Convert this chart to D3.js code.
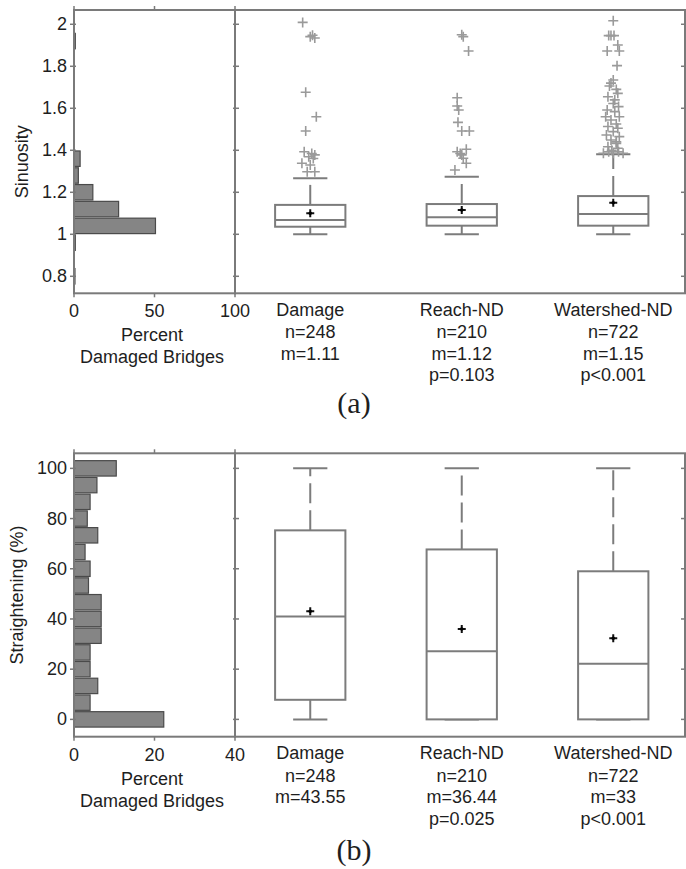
<!DOCTYPE html>
<html><head><meta charset="utf-8">
<script src="https://cdn.jsdelivr.net/npm/d3@7"></script>
<style>
body{margin:0;background:#fff}
svg{display:block}
text{font-family:"Liberation Sans",Arial,sans-serif;fill:#1e1e1e;font-size:18px}
</style>
</head><body><svg id="c" width="686" height="869"></svg>
<script>
// ---------- shared ----------
const categories = ["Damage", "Reach-ND", "Watershed-ND"];
const sampleSizes = ["n=248", "n=210", "n=722"];

// ---------- (a) Sinuosity ----------
const sinMeanLabels = ["m=1.11", "m=1.12", "m=1.15"];
const sinPLabels = ["", "p=0.103", "p<0.001"];
const sinQ1 = [1.036, 1.041, 1.041];
const sinMedian = [1.068, 1.081, 1.097];
const sinQ3 = [1.140, 1.144, 1.182];
const sinWhiskLo = [1.0, 1.0, 1.0];
const sinWhiskHi = [1.267, 1.274, 1.381];
const sinMean = [1.100, 1.116, 1.150];
// outliers: [value, horizontal jitter in category units]
const sinOutDamage = [[2.009,-0.05],[1.941,0.0],[1.935,0.03],[1.948,0.015],[1.676,-0.03],[1.56,0.04],[1.492,-0.03],
  [1.393,-0.04],[1.385,0.01],[1.378,0.03],[1.369,-0.01],[1.361,0.02],[1.338,-0.055],[1.33,0.0],[1.298,-0.02],[1.298,0.03]];
const sinOutReach = [[1.941,0.01],[1.950,0.0],[1.873,0.045],[1.65,-0.03],[1.611,-0.03],[1.592,-0.02],[1.533,-0.025],
  [1.492,0.0],[1.492,0.05],[1.405,0.03],[1.393,-0.03],[1.385,-0.01],[1.378,0.0],[1.362,0.01],[1.338,0.03],[1.306,-0.045]];
const sinOutWatershed = [[2.017,0.0],[1.946,-0.015],[1.946,-0.03],[1.946,0.005],[1.901,0.03],[1.873,-0.04],[1.873,0.04],
  [1.803,0.025],[1.735,0.0],[1.72,-0.015],[1.706,-0.025],[1.69,0.02],[1.671,0.03],[1.655,-0.035],[1.64,0.01],[1.623,0.0],
  [1.608,0.035],[1.592,-0.04],[1.584,0.01],[1.56,0.04],[1.56,-0.05],[1.544,-0.015],[1.525,0.02],[1.513,-0.035],
  [1.505,0.03],[1.489,0.0],[1.473,-0.045],[1.465,0.04],[1.449,-0.015],[1.44,0.02],[1.433,0.02],[1.417,-0.035],
  [1.41,0.03],[1.40,-0.01],[1.386,-0.065],[1.386,0.0],[1.386,0.065],[1.393,-0.03],[1.393,0.035]];
const sinOutliers = [sinOutDamage, sinOutReach, sinOutWatershed];
const sinYTicks = [0.8, 1, 1.2, 1.4, 1.6, 1.8, 2];
const sinYTickLabels = ["0.8", "1", "1.2", "1.4", "1.6", "1.8", "2"];
const sinHistCenters = [0.8,0.88,0.96,1.04,1.12,1.2,1.28,1.36,1.44,1.52,1.6,1.68,1.76,1.84,1.92,2.0];
const sinHistPct =     [0.6,0,   0.8, 50.6,27.7,11.7,2.7, 3.8, 0,   0,   0,  0,   0,   0,   0.8, 0];
const sinHistTicks = [0, 50, 100];

// ---------- (b) Straightening ----------
const strMeanLabels = ["m=43.55", "m=36.44", "m=33"];
const strPLabels = ["", "p=0.025", "p<0.001"];
const strQ1 = [7.8, 0, 0];
const strMedian = [41, 27.1, 22.2];
const strQ3 = [75.3, 67.7, 59];
const strWhiskLo = [0, 0, 0];
const strWhiskHi = [100, 100, 100];
const strMean = [43.1, 36, 32.3];
const strYTicks = [0, 20, 40, 60, 80, 100];
const strYTickLabels = ["0", "20", "40", "60", "80", "100"];
const strHistCenters = [0,6.67,13.33,20,26.67,33.33,40,46.67,53.33,60,66.67,73.33,80,86.67,93.33,100];
const strHistPct =     [22.3,4,5.9, 4, 4,   6.75, 6.75,6.75,3.6, 4, 2.75, 5.9, 3.3,4,  5.7,  10.5];
const strHistTicks = [0, 20, 40];

// ---------- drawing ----------
const svg = d3.select("#c");
const FRAME = "#7a7a7a";

function panel(cfg) {
  const g = svg.append("g");
  const top = cfg.top, bottom = cfg.bottom;
  const hx0 = 74, hx1 = 235, bx1 = 685;
  const y = d3.scaleLinear().domain(cfg.yDomain).range([bottom, top]);
  const hx = d3.scaleLinear().domain([0, cfg.histMax]).range([hx0, hx1]);
  const cx = d3.scaleLinear().domain([0.5, 3.5]).range([234.5, 689]);
  const binH = Math.abs(y(cfg.histCenters[1]) - y(cfg.histCenters[0]));

  // histogram bars
  g.append("g").selectAll("rect").data(cfg.histCenters.map((c, i) => [c, cfg.histPct[i]]).filter(d => d[1] > 0))
    .join("rect")
    .attr("x", hx(0))
    .attr("y", d => y(d[0]) - binH * 0.46)
    .attr("width", d => hx(d[1]) - hx(0))
    .attr("height", binH * 0.92)
    .attr("fill", "#858585").attr("stroke", "#4a4a4a").attr("stroke-width", 1.2);

  // frames
  g.append("rect").attr("x", hx0).attr("y", top).attr("width", hx1 - hx0).attr("height", bottom - top)
    .attr("fill", "none").attr("stroke", FRAME).attr("stroke-width", 2);
  g.append("rect").attr("x", hx1).attr("y", top).attr("width", bx1 - hx1).attr("height", bottom - top)
    .attr("fill", "none").attr("stroke", FRAME).attr("stroke-width", 2);

  // y ticks
  const tk = g.append("g").attr("stroke", FRAME).attr("stroke-width", 1.5);
  cfg.yTicks.forEach(v => {
    tk.append("line").attr("x1", hx0 - 4).attr("x2", hx0 + 2).attr("y1", y(v)).attr("y2", y(v));
    tk.append("line").attr("x1", hx1 - 2).attr("x2", hx1 + 4).attr("y1", y(v)).attr("y2", y(v));
    tk.append("line").attr("x1", bx1 - 4).attr("x2", bx1).attr("y1", y(v)).attr("y2", y(v));
  });
  cfg.histTicks.forEach(v => {
    tk.append("line").attr("x1", hx(v)).attr("x2", hx(v)).attr("y1", top - 4).attr("y2", top);
    tk.append("line").attr("x1", hx(v)).attr("x2", hx(v)).attr("y1", bottom).attr("y2", bottom + 4);
  });

  // y tick labels
  g.append("g").selectAll("text").data(cfg.yTicks).join("text")
    .attr("x", 67).attr("y", d => y(d) + 6).attr("text-anchor", "end")
    .text((d, i) => cfg.yTickLabels[i]);
  // hist x tick labels
  g.append("g").selectAll("text").data(cfg.histTicks).join("text")
    .attr("x", d => hx(d)).attr("y", bottom + 24).attr("text-anchor", "middle").text(d => d);
  g.append("text").attr("x", 152).attr("y", bottom + 48).attr("text-anchor", "middle").text("Percent");
  g.append("text").attr("x", 152).attr("y", bottom + 70).attr("text-anchor", "middle").text("Damaged Bridges");
  // y label
  g.append("text").attr("transform", `translate(${cfg.yLabelX},${(top + bottom) / 2 + cfg.yLabelDy}) rotate(-90)`)
    .attr("text-anchor", "middle").text(cfg.yLabel);

  // boxplots
  const bw = 0.232, cw = 0.113;
  categories.forEach((cat, i) => {
    const c = i + 1;
    const bg = g.append("g").attr("stroke", "#7c7c7c").attr("fill", "none").attr("stroke-width", 2);
    // whiskers (dashed, starting at box edge)
    bg.append("line").attr("x1", cx(c)).attr("x2", cx(c)).attr("y1", y(cfg.q3[i])).attr("y2", y(cfg.whHi[i]))
      .attr("stroke-dasharray", "20,7");
    bg.append("line").attr("x1", cx(c)).attr("x2", cx(c)).attr("y1", y(cfg.q1[i])).attr("y2", y(cfg.whLo[i]))
      .attr("stroke-dasharray", "20,7");
    bg.append("line").attr("x1", cx(c - cw)).attr("x2", cx(c + cw)).attr("y1", y(cfg.whHi[i])).attr("y2", y(cfg.whHi[i]));
    bg.append("line").attr("x1", cx(c - cw)).attr("x2", cx(c + cw)).attr("y1", y(cfg.whLo[i])).attr("y2", y(cfg.whLo[i]));
    bg.append("rect").attr("x", cx(c - bw)).attr("width", cx(c + bw) - cx(c - bw))
      .attr("y", y(cfg.q3[i])).attr("height", y(cfg.q1[i]) - y(cfg.q3[i])).attr("fill", "#fff");
    bg.append("line").attr("x1", cx(c - bw)).attr("x2", cx(c + bw)).attr("y1", y(cfg.med[i])).attr("y2", y(cfg.med[i]));
    // outliers
    if (cfg.outliers) {
      g.append("g").selectAll("path").data(cfg.outliers[i]).join("path")
        .attr("transform", d => `translate(${cx(c + d[1])},${y(d[0])})`)
        .attr("d", "M-5,0H5M0,-5V5").attr("stroke", "#9a9a9a").attr("stroke-width", 1.6).attr("fill", "none");
    }
    // mean
    g.append("path").attr("transform", `translate(${cx(c)},${y(cfg.mean[i])})`)
      .attr("d", "M-4,0H4M0,-4V4").attr("stroke", "#111").attr("stroke-width", 2);
    g.append("circle").attr("cx", cx(c)).attr("cy", y(cfg.mean[i])).attr("r", 1.8).attr("fill", "#000");

    // category labels
    const lines = [cat, sampleSizes[i], cfg.meanLabels[i], cfg.pLabels[i]];
    const offs = [22.5, 45, 66.5, 88];
    lines.forEach((t, j) => {
      if (t) g.append("text").attr("x", cx(c)).attr("y", bottom + offs[j]).attr("text-anchor", "middle").text(t);
    });
  });

  g.append("text").attr("x", 354).attr("y", cfg.captionY).attr("text-anchor", "middle")
    .style("font-family", '"Liberation Serif","Times New Roman",serif').style("font-size", "30px")
    .text(cfg.caption);
}

panel({
  top: 10, bottom: 293.3, yDomain: [0.719, 2.068], histMax: 100,
  histCenters: sinHistCenters, histPct: sinHistPct, histTicks: sinHistTicks,
  yTicks: sinYTicks, yTickLabels: sinYTickLabels, yLabel: "Sinuosity", yLabelX: 28, yLabelDy: 10,
  q1: sinQ1, med: sinMedian, q3: sinQ3, whLo: sinWhiskLo, whHi: sinWhiskHi, mean: sinMean,
  outliers: sinOutliers, meanLabels: sinMeanLabels, pLabels: sinPLabels,
  caption: "(a)", captionY: 413
});
panel({
  top: 453.3, bottom: 736.7, yDomain: [-6.9, 106], histMax: 40,
  histCenters: strHistCenters, histPct: strHistPct, histTicks: strHistTicks,
  yTicks: strYTicks, yTickLabels: strYTickLabels, yLabel: "Straightening (%)", yLabelX: 23, yLabelDy: 0,
  q1: strQ1, med: strMedian, q3: strQ3, whLo: strWhiskLo, whHi: strWhiskHi, mean: strMean,
  outliers: null, meanLabels: strMeanLabels, pLabels: strPLabels,
  caption: "(b)", captionY: 860
});
</script>
</body></html>
